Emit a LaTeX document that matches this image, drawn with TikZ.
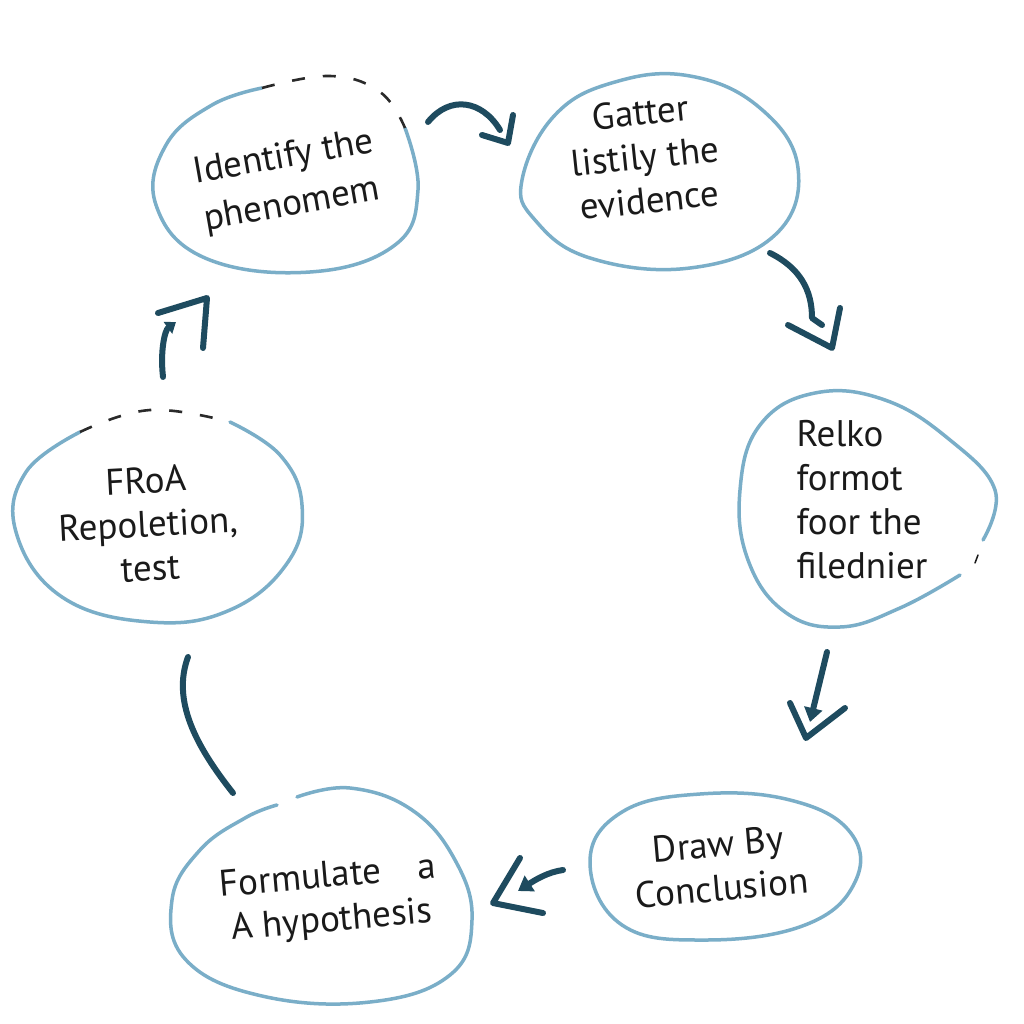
\documentclass[tikz,border=0pt]{standalone}
\usepackage{fontspec}
\setmainfont{PT Sans}
\usetikzlibrary{arrows.meta}
\definecolor{blob}{HTML}{7AAEC8}
\definecolor{arr}{HTML}{1E4B5F}
\definecolor{ink}{HTML}{1A1A1A}
\definecolor{dash}{HTML}{2A2A2A}
\begin{document}
\begin{tikzpicture}[x=1pt,y=-1pt,
  blobline/.style={draw=blob, line width=3.5pt, line cap=round},
  dashline/.style={draw=dash, line width=2.6pt, dash pattern=on 13pt off 18pt},
  conn/.style={draw=arr, line width=6pt, line cap=round, line join=round},
  tip/.style={-{Triangle[length=14pt,width=18pt]}},
  lbl/.style={font=\fontsize{37}{44}\selectfont, text=ink, align=center}]
\fill[white] (0,0) rectangle (1024,1024);
\useasboundingbox (0,0) rectangle (1024,1024);

% ---- blobs ----
% Identify
\draw[blobline] plot[smooth, tension=0.7] coordinates {(405,128) (418,190) (395,245) (310,272) (205,258) (156,205) (166,145) (212,105) (262,88)};
\draw[dashline] plot[smooth, tension=0.7] coordinates {(262,88) (330,76) (380,92) (405,128)};
% Gatter
\draw[blobline] plot[smooth cycle, tension=0.7] coordinates {(522,180) (555,115) (615,82) (690,76) (760,108) (798,168) (775,235) (690,268) (590,258) (535,220)};
% Relko
\draw[blobline] plot[smooth, tension=0.7] coordinates {(960,575) (900,608) (840,627) (785,612) (748,560) (740,490) (760,425) (815,393) (885,400) (950,440) (995,490) (983,540)};
\draw[draw=ink, line width=1.5pt, line cap=round] (978,555) -- (975,563);
% Draw By
\draw[blobline] plot[smooth cycle, tension=0.7] coordinates {(590,862) (622,812) (700,794) (790,800) (850,832) (855,882) (805,925) (705,940) (622,925)};
% Formulate
\draw[blobline] plot[smooth, tension=0.7] coordinates {(297,797) (350,788) (412,810) (455,860) (472,920) (450,975) (370,1002) (262,996) (186,960) (172,900) (200,850) (245,818) (277,805)};
% FRoA
\draw[blobline] plot[smooth, tension=0.7] coordinates {(230,422) (280,455) (302,505) (288,562) (230,610) (150,622) (62,597) (16,532) (26,472) (80,432)};
\draw[dashline] plot[smooth, tension=0.7] coordinates {(80,432) (150,410) (230,422)};

% ---- labels ----
\node[lbl, rotate=10, font=\fontsize{37}{48}\selectfont] (t1) at (288,182) {Identify the\\phenomem};
\node[lbl, rotate=6] (t2) at (645,156) {Gatter\\listily the\\evidence};
\node[lbl, align=left] (t3) at (862,500) {Relko\\formot\\foor the\\filednier};
\node[lbl, rotate=5] (t4) at (720,866) {Draw By\\Conclusion};
\node[lbl, rotate=5] (t5) at (330,900) {Formulate\quad a\\A hypothesis};
\node[lbl, rotate=3] (t6) at (148,524) {FRoA\\Repoletion,\\test};

% ---- connectors ----
% Identify -> Gatter
\coordinate (a1s) at (428,122); \coordinate (a1e) at (500,130);
\coordinate (a1p) at (513,115); \coordinate (a1c) at (508,143); \coordinate (a1q) at (482,135);
\draw[conn] (a1s) .. controls (450,95) and (482,100) .. (a1e);
\draw[conn] (a1p) -- (a1c) -- (a1q);
% Gatter -> Relko
\coordinate (a2s) at (770,253); \coordinate (a2m) at (812,318); \coordinate (a2e) at (822,325);
\coordinate (a2p) at (840,308); \coordinate (a2c) at (832,348); \coordinate (a2q) at (788,325);
\draw[conn] (a2s) .. controls (800,268) and (812,290) .. (a2m) -- (a2e);
\draw[conn] (a2p) -- (a2c) -- (a2q);
% Relko -> Draw
\coordinate (a3s) at (827,652); \coordinate (a3e) at (810,722);
\coordinate (a3p) at (790,703); \coordinate (a3c) at (806,738); \coordinate (a3q) at (845,708);
\draw[conn, tip] (a3s) -- (a3e);
\draw[conn] (a3p) -- (a3c) -- (a3q);
% Draw -> Formulate
\coordinate (a4s) at (563,870); \coordinate (a4e) at (518,891);
\coordinate (a4p) at (520,858); \coordinate (a4c) at (493,903); \coordinate (a4q) at (543,913);
\draw[conn, tip] (a4s) .. controls (548,872) and (535,880) .. (a4e);
\draw[conn] (a4p) -- (a4c) -- (a4q);
% Formulate -> FRoA
\coordinate (a5s) at (233,793); \coordinate (a5e) at (188,657);
\draw[conn] (a5s) .. controls (195,745) and (172,700) .. (a5e);
% FRoA -> Identify
\coordinate (a6s) at (163,377); \coordinate (a6e) at (176,322);
\coordinate (a6p) at (158,313); \coordinate (a6c) at (207,298); \coordinate (a6q) at (203,348);
\draw[conn, -{Triangle[length=10pt,width=14pt]}] (a6s) .. controls (160,350) and (165,330) .. (a6e);
\draw[conn] (a6p) -- (a6c) -- (a6q);
\end{tikzpicture}
\end{document}
